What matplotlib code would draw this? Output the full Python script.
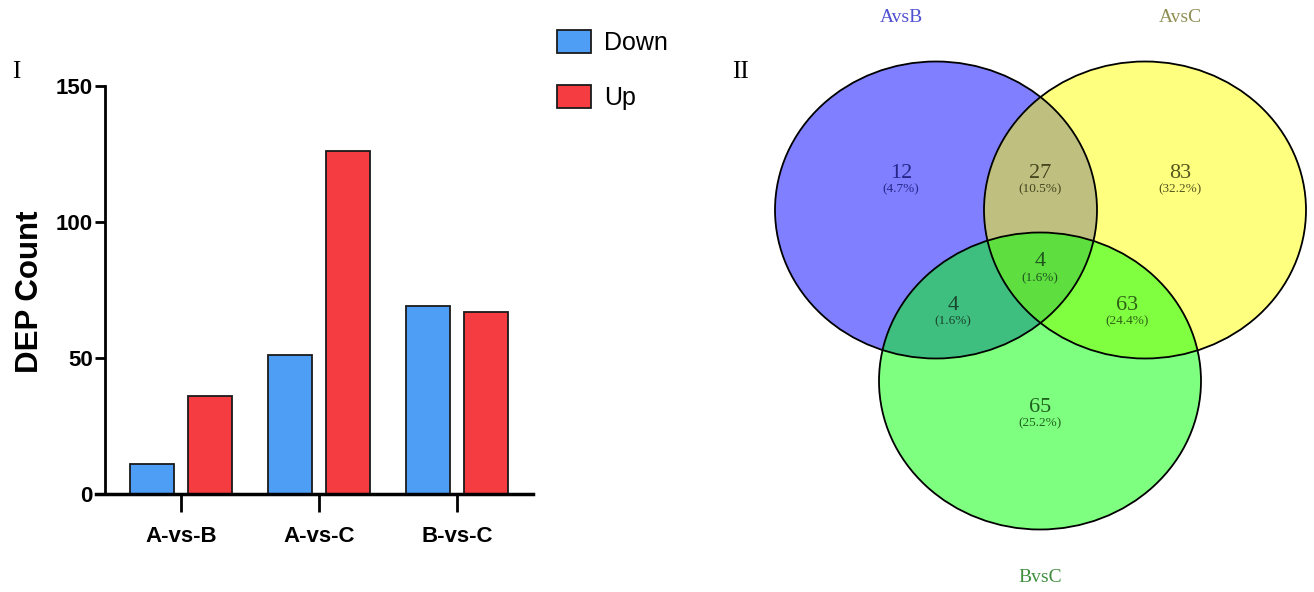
import numpy as np
import matplotlib
matplotlib.use("Agg")
import matplotlib.pyplot as plt
from matplotlib.patches import Ellipse, Patch

# bar chart data
groups = ['A-vs-B', 'A-vs-C', 'B-vs-C']
down = [11, 51, 69]
up = [36, 126, 67]

# venn data
venn_sets = ['AvsB', 'AvsC', 'BvsC']
region_names = ['AvsB only', 'AvsB&AvsC', 'AvsC only', 'all', 'AvsB&BvsC', 'AvsC&BvsC', 'BvsC only']
region_counts = [12, 27, 83, 4, 4, 63, 65]

plt.rcParams['font.family'] = ['Liberation Sans', 'DejaVu Sans']
serif = ['Liberation Serif', 'DejaVu Serif']

W, H = 1314, 592
fig = plt.figure(figsize=(W / 100, H / 100), dpi=100)


def px_axes(x0, y0, x1, y1):
    # axes placed by pixel box (top-left origin)
    return fig.add_axes([x0 / W, 1 - y1 / H, (x1 - x0) / W, (y1 - y0) / H])


# ---- panel I: bar chart ----
ax = px_axes(96, 86, 533, 494)
x = np.arange(len(groups))
bw = 0.32
blue = '#4f9ef5'
red = '#f53c40'
ax.bar(x - 0.21, down, bw, color=blue, edgecolor='#1a1a1a', linewidth=1.3)
ax.bar(x + 0.21, up, bw, color=red, edgecolor='#1a1a1a', linewidth=1.3)

ax.set_xlim(-0.616, 2.55)
ax.set_ylim(0, 150)
ax.spines[['top', 'right']].set_visible(False)
ax.spines['left'].set_position(('data', -0.55))
ax.spines['left'].set_linewidth(2)
ax.spines['bottom'].set_linewidth(2.5)
ax.set_yticks([0, 50, 100, 150])
ax.set_xticks(x, groups)
ax.tick_params(axis='y', length=7, width=2, pad=2, labelsize=16)
ax.tick_params(axis='x', length=13, width=2, pad=10, labelsize=16)
for lab in ax.get_xticklabels() + ax.get_yticklabels():
    lab.set_fontweight('bold')
ax.set_ylabel('DEP Count', fontsize=22.5, fontweight='bold')
ax.yaxis.set_label_coords(-0.117, 0.495)

handles = [Patch(facecolor=blue, edgecolor='#1a1a1a', linewidth=1.3, label='Down'),
           Patch(facecolor=red, edgecolor='#1a1a1a', linewidth=1.3, label='Up')]
fig.legend(handles=handles, loc='upper left', bbox_to_anchor=(557 / W, 1 - 30 / H),
           frameon=False, prop={'size': 18},
           handlelength=1.35, handleheight=1.05, handletextpad=0.55,
           labelspacing=1.2, borderpad=0, borderaxespad=0)

fig.text(16 / W, 1 - 72 / H, 'I', family=serif, fontsize=18, ha='center', va='center')
fig.text(740 / W, 1 - 72 / H, 'II', family=serif, fontsize=18, ha='center', va='center')

# ---- panel II: venn diagram (axes in pixel units) ----
vax = px_axes(700, 0, 1314, 592)
vax.set_xlim(700, 1314)
vax.set_ylim(592, 0)
vax.axis('off')

centers = [(936, 210), (1145, 210), (1040, 381)]
fills = ['#0000ff', '#ffff00', '#00ff00']
ew, eh = 322, 297
for (cx, cy), c in zip(centers, fills):
    vax.add_patch(Ellipse((cx, cy), ew, eh, facecolor=c, alpha=0.5, edgecolor='none'))
for cx, cy in centers:
    vax.add_patch(Ellipse((cx, cy), ew, eh, facecolor='none', edgecolor='black', linewidth=1.3))

set_label_pos = [(901, 17), (1180, 17), (1040, 578)]
set_label_col = ['#5050d0', '#8f8f55', '#3f8f3f']
for name, (tx, ty), c in zip(venn_sets, set_label_pos, set_label_col):
    vax.text(tx, ty, name, family=serif, fontsize=14, color=c, ha='center', va='center')

region_pos = [(901, 173), (1040, 173), (1180, 173), (1040, 262), (953, 305), (1127, 305), (1040, 407)]
region_col = ['#26268a', '#454520', '#55551f', '#1f551f', '#1a452c', '#2f6015', '#1f621f']
total = sum(region_counts)
for n, (tx, ty), c in zip(region_counts, region_pos, region_col):
    vax.text(tx, ty, str(n), family=serif, fontsize=16, color=c, ha='center', va='center')
    vax.text(tx, ty + 16, '(%.1f%%)' % (100 * n / total), family=serif, fontsize=9.5,
             color=c, ha='center', va='center')

fig.savefig('out.png', dpi=100)
